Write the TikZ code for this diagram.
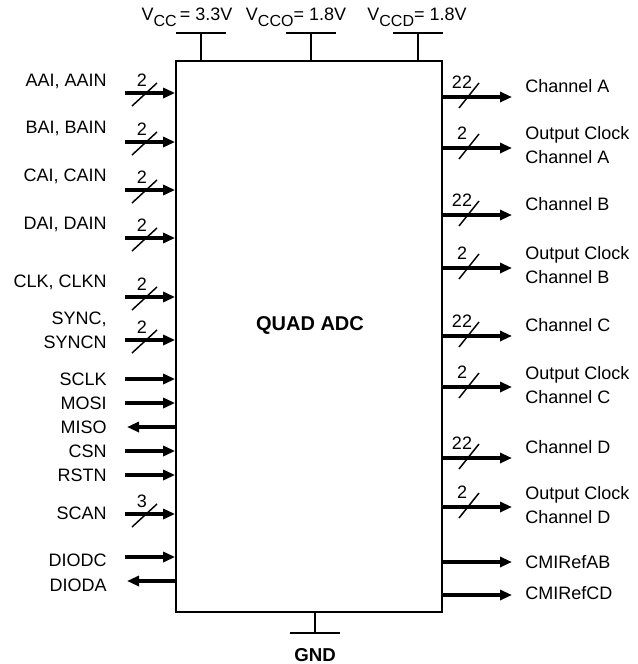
\documentclass[tikz,border=0pt]{standalone}
\usepackage{fontspec}
\setmainfont{Liberation Sans}
\usetikzlibrary{arrows.meta,calc}
\begin{document}
\begin{tikzpicture}[x=0.75pt,y=-0.75pt,
  font=\fontsize{13.5}{18}\selectfont,
  chip/.style={draw,line width=1.3pt,minimum width=199.5pt,minimum height=413.25pt,inner sep=0pt},
  sig/.style={line width=2.4pt,-{Triangle[length=9pt,width=7.5pt]}},
  slash/.style={line width=1.1pt},
  pwr/.style={line width=1.3pt},
  lbl/.style={inner sep=0pt},
  num/.style={inner sep=0pt}]
\useasboundingbox (0,0) rectangle (638,664);
\node[chip] (adc) at (309,336.5) {};
\node[lbl,font=\fontsize{15}{18}\selectfont\bfseries] (title) at (310,325) {QUAD ADC};
% supplies
\foreach \n/\x/\lx/\txt in {vcc/201/187/{V\raisebox{-4.5pt}{\fontsize{12}{12}\selectfont CC}\,= 3.3V},
  vcco/311/296/{V\raisebox{-4.5pt}{\fontsize{12}{12}\selectfont CCO}= 1.8V},
  vccd/418/417/{V\raisebox{-4.5pt}{\fontsize{12}{12}\selectfont CCD}= 1.8V}}{
  \coordinate (\n) at (\x,33);
  \draw[pwr] (\n) -- (\n |- adc.north);
  \draw[pwr] ($(\n)+(-25,0)$) -- ($(\n)+(25,0)$);
  \node[lbl] (t\n) at (\lx,17) {\txt};
}
% ground
\coordinate (gnd) at (315,633);
\draw[pwr] (gnd |- adc.south) -- (gnd);
\draw[pwr] ($(gnd)+(-25,0)$) -- ($(gnd)+(25,0)$);
\node[lbl,font=\fontsize{14}{18}\selectfont\bfseries] (tgnd) at (315,655) {GND};
% left inputs
\foreach \n/\ay in {aai/93,bai/142,cai/190,dai/238,clk/297,sync/340,sclk/379,mosi/403,csn/451,rstn/475,scan/514,diodc/557}{
  \coordinate (L\n) at (125,\ay);
  \draw[sig] (L\n) -- (L\n -| adc.west);
}
\foreach \n/\ay in {miso/427,dioda/581}{
  \coordinate (L\n) at (127,\ay);
  \draw[sig] (L\n -| adc.west) -- (L\n);
}
\foreach \n/\ly/\txt in {aai/81/{AAI, AAIN},bai/128/{BAI, BAIN},cai/176/{CAI, CAIN},dai/224/{DAI, DAIN},
  clk/282/{CLK, CLKN},sync/330/{SYNC,\\SYNCN},sclk/379/SCLK,mosi/403/MOSI,miso/427/MISO,csn/451/CSN,
  rstn/475/RSTN,scan/513/SCAN,diodc/560/DIODC,dioda/585/DIODA}{
  \node[lbl,anchor=east,align=right] (t\n) at (107,\ly) {\txt};
}
\foreach \n/\b in {aai/2,bai/2,cai/2,dai/2,clk/2,sync/2,scan/3}{
  \draw[slash] ($(L\n)+(7,13)$) -- ++(25,-23);
  \node[num] (b\n) at ($(L\n)+(17,-13)$) {\b};
}
% right outputs
\foreach \n/\ay in {cha/97,oca/148,chb/215,ocb/268,chc/336,occ/387,chd/458,ocd/507,cmab/562,cmcd/595}{
  \coordinate (R\n) at (512,\ay);
  \draw[sig] (R\n -| adc.east) -- (R\n);
}
\foreach \n/\ly/\txt in {cha/86/{Channel A},oca/145/{Output Clock\\Channel A},chb/204/{Channel B},
  ocb/265/{Output Clock\\Channel B},chc/325/{Channel C},occ/385/{Output Clock\\Channel C},
  chd/447/{Channel D},ocd/505/{Output Clock\\Channel D},cmab/562/CMIRefAB,cmcd/593/CMIRefCD}{
  \node[lbl,anchor=west,align=left] (t\n) at (525,\ly) {\txt};
}
\foreach \n/\b in {cha/22,oca/2,chb/22,ocb/2,chc/22,occ/2,chd/22,ocd/2}{
  \draw[slash] ($(R\n)+(-53,11)$) -- ++(20,-25);
  \node[num] (b\n) at ($(R\n)+(-50,-15)$) {\b};
}
\end{tikzpicture}
\end{document}
